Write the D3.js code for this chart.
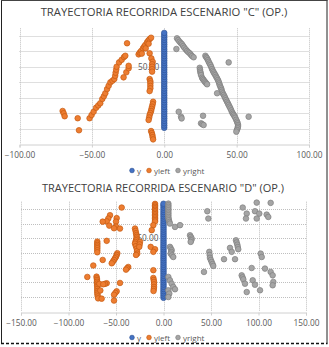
<!DOCTYPE html>
<html><head><meta charset="utf-8">
<script src="https://cdn.jsdelivr.net/npm/d3@7"></script>
<style>
html,body{margin:0;padding:0;background:#fff;}
svg{display:block;font-family:"Open Sans","Liberation Sans",sans-serif;}
</style></head>
<body><svg id="c" width="329" height="347"></svg>
<script>
// ---------- DATA ----------
const titles = ['TRAYECTORIA  RECORRIDA ESCENARIO "C" (OP.)', 'TRAYECTORIA RECORRIDA ESCENARIO "D" (OP.)'];
const seriesNames = ["y", "yleft", "yright"];
const xTicksC = [-100, -50, 0, 50, 100];
const xTicksD = [-150, -100, -50, 0, 50, 100, 150];
const yGrid = [10, 20, 30, 40, 50, 60, 70];
const yLabels = [50];

const C_y = [10.5,12,13.5,15,16.5,18,19.5,21,22.5,24,25.5,27,28.5,30,31.5,33,34.5,36,37.5,39,40.5,42,43.5,45,46.5,48,49.5,51,52.5,54,55.5,57,58.5,60,61.5,63,64.5,66,67.5,69,70.5,72];
const C_yleft = [
 [-70.2,21.4],[-69.5,19.9],[-68.8,18.0],[-59.8,16.7],[-58.9,8.9],
 [-51.6,16.7],[-50.2,18.8],[-48.8,20.9],[-47.1,23.5],[-45.6,25.0],[-44.2,26.4],[-42.8,29.2],[-41.7,31.0],
 [-40.7,32.9],[-39.5,35.6],[-38.4,37.8],[-37.2,40.0],[-35.8,41.0],[-34.5,42.1],[-33.9,44.2],[-33.6,46.2],
 [-33.2,48.2],[-32.9,50.1],[-31.2,52.9],[-29.4,54.6],[-27.8,56.4],[-26.9,57.2],[-25.7,65.3],
 [-28.1,43.2],[-26.2,46.5],[-24.6,49.1],[-24.6,50.7],
 [-17.7,58.1],[-16.9,59.2],[-16.0,60.3],[-14.7,62.0],[-13.9,63.1],[-13.1,64.2],[-11.9,65.9],[-11.0,67.0],
 [-10.1,68.0],[-9.1,68.9],[-15.5,58.6],[-12.8,62.0],[-10.8,65.0],
 [-10.1,58.8],[-8.9,55.5],[-8.0,53.3],[-8.4,51.7],[-8.4,50.1],[-8.4,48.5],[-8.4,46.9],
 [-10.1,42.1],[-9.6,40.7],[-9.6,39.3],[-9.6,37.7],[-9.6,36.1],[-10.1,34.3],
 [-7.7,27.4],[-8.0,25.8],[-8.4,24.2],[-8.8,22.8],[-9.1,21.4],[-9.6,20.1],[-10.1,18.8],[-10.4,17.2],[-10.8,15.6],
 [-9.1,8.4],[-8.6,7.1],[-8.2,5.8],[-8.0,4.4],[-7.7,3.0]
];
const C_yright = [
 [8.8,68.5],[9.7,67.4],[10.6,66.3],[11.5,65.4],[12.3,64.6],[13.1,63.5],[13.9,62.4],[14.9,61.3],[15.8,60.3],
 [16.7,59.5],[17.6,58.8],[18.4,57.9],[19.2,57.0],[20.3,56.2],[8.4,61.6],
 [28.4,57.2],[29.0,56.3],[29.6,55.5],[30.2,54.4],[30.7,53.3],[31.3,52.2],[31.9,51.2],[32.5,49.9],[33.0,48.6],
 [33.6,47.5],[34.1,46.5],[34.7,45.6],[35.3,44.7],[35.9,43.6],[36.5,42.6],[37.1,41.5],[37.6,40.4],[38.0,39.3],
 [38.3,38.2],[38.8,37.1],[39.3,36.1],[39.6,35.0],[39.9,33.9],[40.5,32.8],[41.1,31.8],[41.7,30.7],[42.2,29.6],
 [42.8,28.5],[43.4,27.4],[44.0,26.3],[44.5,25.3],[45.1,24.2],[45.7,23.1],[46.3,21.8],[46.9,20.5],[47.5,19.6],
 [48.0,18.8],[48.6,17.9],[49.1,17.0],[49.7,15.7],[50.3,14.5],[50.7,13.4],[51.0,12.3],[50.9,11.2],[50.7,10.2],
 [50.2,9.1],[49.8,8.0],
 [24.5,49.4],[24.7,48.1],[24.9,46.9],[25.2,45.8],[25.4,44.7],[26.1,43.0],[26.6,42.2],[27.2,41.5],[27.8,40.7],
 [28.4,40.0],[29.0,39.3],[29.6,38.7],
 [44.5,52.9],[36.5,32.9],[10.0,20.9],[11.6,17.7],[12.0,16.6],[26.8,18.3],[25.4,13.4],[26.3,12.8],[27.2,12.3],
 [58.3,17.7]
];

const D_y = [9.5,11,12.5,14,15.5,17,18.5,20,21.5,23,24.5,26,27.5,29,30.5,32,33.5,35,36.5,38,39.5,41,42.5,44,45.5,47,48.5,50,51.5,53,54.5,56,57.5,59,60.5,62,63.5,65,66.5,68,69.5,71,72.5,73.6];
const D_yleft = [
 [-44.0,71.0],[-56.3,65.8],[-58.1,63.5],[-59.8,61.6],[-64.0,61.4],[-57.1,58.7],
 [-49.3,63.8],[-50.0,61.4],[-50.0,58.0],[-52.1,56.9],[-45.8,56.7],
 [-8.9,73.5],[-8.9,72.5],[-8.9,71.5],[-8.9,70.5],[-8.9,69.5],[-8.9,68.5],[-8.9,67.5],[-8.9,66.5],[-8.9,65.5],
 [-8.9,64.5],[-8.9,63.5],[-8.9,62.5],[-8.9,61.5],[-10.7,59.0],[-12.4,55.6],
 [-30.0,56.7],[-29.4,55.1],[-28.9,53.5],[-28.5,52.2],[-28.2,51.0],[-28.5,49.8],[-28.9,48.7],[-29.5,47.5],
 [-30.0,46.4],[-29.1,44.7],[-28.2,43.0],[-27.9,41.3],[-27.6,39.6],[-28.9,38.7],
 [-24.7,47.6],[-25.1,45.9],[-25.5,44.2],
 [-13.5,44.2],[-8.9,42.6],[-10.7,40.8],
 [-59.8,48.3],
 [-69.7,47.8],[-69.7,46.6],[-69.7,45.5],[-69.7,44.4],[-69.7,43.3],[-69.7,41.9],[-69.7,40.5],
 [-48.6,39.9],[-49.3,38.7],[-50.0,37.5],[-51.0,36.4],[-52.1,35.3],[-53.3,34.1],[-54.5,33.0],
 [-64.0,35.3],[-73.9,31.5],[-37.1,30.5],[-38.3,29.6],[-39.5,28.7],[-10.7,28.3],[-80.2,23.7],
 [-70.5,23.9],[-70.2,22.7],[-70.0,21.6],[-70.0,20.4],[-70.0,19.2],[-69.8,18.0],[-69.7,16.9],[-69.7,15.5],
 [-69.7,14.1],[-69.6,12.9],[-69.5,11.7],[-69.2,10.4],[-68.9,9.1],[-67.5,19.0],[-66.5,14.5],
 [-59.8,19.4],[-61.6,19.0],[-63.4,18.7],[-45.8,19.6],
 [-10.7,23.0],[-10.3,21.6],[-10.0,20.3],[-10.0,18.6],[-10.0,16.9],[-10.2,15.5],[-10.5,14.1],
 [-49.3,13.9],[-50.7,12.8],[-52.1,11.6],[-65.1,8.9],[-52.1,7.6]
];
const D_yright = [
 [5.1,73.7],[5.1,72.6],[5.1,71.5],[5.1,70.4],[5.1,69.2],[5.1,68.0],[5.1,66.9],[5.1,65.8],[5.1,64.6],
 [5.3,63.5],[5.6,62.4],[6.2,61.2],[6.7,60.1],[12.1,57.8],[17.4,59.0],
 [27.9,52.1],[28.8,51.0],[29.7,49.8],[29.2,48.7],[28.6,47.6],
 [6.8,44.2],[7.7,43.0],[8.6,41.9],[8.1,40.7],[7.6,39.6],[9.0,38.4],[10.3,37.3],
 [46.1,68.5],[47.2,63.5],[48.2,40.8],[48.6,38.7],[48.9,36.7],[49.8,35.3],[50.7,33.9],[51.6,32.5],[52.4,31.2],
 [42.6,27.1],[63.7,35.8],[70.0,43.5],[71.8,40.8],
 [76.3,48.7],[77.0,47.2],[77.7,45.7],[78.2,44.1],[78.7,42.6],[75.3,35.8],
 [83.4,71.0],[87.6,66.9],[86.8,63.5],[98.1,74.4],[112.8,74.2],[96.3,68.5],[100.8,66.9],[108.6,66.2],
 [110.3,64.6],[98.1,63.5],[102.3,39.6],[103.4,37.3],[92.8,29.8],[106.8,29.4],[112.8,27.1],[114.9,24.8],
 [115.6,20.3],[114.9,18.0],[82.3,24.8],[83.2,23.4],[84.0,22.1],[85.8,19.1],[93.9,21.4],[96.3,18.4],
 [101.6,14.6],[87.6,13.4],
 [5.1,23.7],[6.8,21.4],[8.6,19.1],[10.3,16.9],[12.1,15.3],[5.1,14.6],[6.1,12.3],[5.1,10.0]
];

// ---------- DRAW ----------
const svg = d3.select("#c");
const colors = {y:"#4472C4", yleft:"#ED7D31", yright:"#A5A5A5"};
const strokes = {y:"#2F5597", yleft:"#C55A11", yright:"#7F7F7F"};
const textCol = "#595959";

// outer frame
svg.append("line").attr("x1",1.5).attr("x2",1.5).attr("y1",0).attr("y2",343.5).attr("stroke","#222").attr("stroke-width",1);
svg.append("line").attr("x1",327).attr("x2",327).attr("y1",0).attr("y2",343.5).attr("stroke","#222").attr("stroke-width",1);
svg.append("line").attr("x1",1).attr("x2",327.5).attr("y1",0.5).attr("y2",0.5).attr("stroke","#444").attr("stroke-width",1);
svg.append("line").attr("x1",1).attr("x2",327.5).attr("y1",343.5).attr("y2",343.5).attr("stroke","#111").attr("stroke-width",1.3).attr("stroke-dasharray","3,2");

function chart(cfg){
  const g = svg.append("g");
  const x = d3.scaleLinear().domain(cfg.xdom).range([cfg.left, cfg.right]);
  const y = d3.scaleLinear().domain([0,75]).range([cfg.bottom, cfg.top]);

  const t = g.append("text").attr("x",cfg.titleX).attr("y",cfg.titleY).attr("text-anchor","middle")
    .attr("font-size",13).attr("fill","#404040").attr("font-family","Open Sans, Liberation Sans, sans-serif")
    .text(cfg.title);
  const w = t.node().getComputedTextLength();
  if (w > 0) t.attr("font-size", (13 * cfg.titleW / w).toFixed(2));

  // horizontal gridlines
  g.selectAll("line.hg").data(yGrid).join("line").attr("class","hg")
    .attr("x1",cfg.left).attr("x2",cfg.right).attr("y1",d=>Math.round(y(d))+0.5).attr("y2",d=>Math.round(y(d))+0.5)
    .attr("stroke","#bfbfbf").attr("stroke-width",1).attr("stroke-dasharray","1,1");
  // vertical gridlines
  g.selectAll("line.vg").data(cfg.xticks).join("line").attr("class","vg")
    .attr("x1",d=>Math.round(x(d))+0.5).attr("x2",d=>Math.round(x(d))+0.5).attr("y1",cfg.top).attr("y2",cfg.bottom)
    .attr("stroke","#bfbfbf").attr("stroke-width",1).attr("stroke-dasharray","1,1");

  // x axis
  const xa = g.append("g").attr("transform",`translate(0,${Math.round(cfg.bottom)+0.5})`)
    .call(d3.axisBottom(x).tickValues(cfg.xticks).tickSize(3).tickFormat(d3.format(".2f")));
  xa.select(".domain").attr("stroke","#d0d0d0");
  xa.selectAll(".tick line").attr("stroke","#d0d0d0");
  xa.selectAll("text").attr("fill",textCol).attr("font-size",8.3).attr("font-family","Open Sans, Liberation Sans, sans-serif").attr("dy","0.9em");

  // y labels at the crossing x = 0
  g.selectAll("text.yl").data(yLabels).join("text").attr("class","yl")
    .attr("x",x(0)-5).attr("y",d=>y(d)+3).attr("text-anchor","end")
    .attr("font-size",8.3).attr("fill",textCol).text(d=>d3.format(".2f")(d));

  // series
  const pts = [
    {name:"y", data: cfg.yy.map(v=>[0,v])},
    {name:"yleft", data: cfg.left_},
    {name:"yright", data: cfg.right_}
  ];
  pts.forEach(s=>{
    g.append("g").selectAll("circle").data(s.data).join("circle")
      .attr("cx",d=>x(d[0])).attr("cy",d=>y(d[1])).attr("r",2.8)
      .attr("fill",colors[s.name]).attr("stroke",strokes[s.name]).attr("stroke-width",0.7);
  });

  // legend
  const offs = [0, 17, 46];
  const lg = g.append("g").attr("transform",`translate(${cfg.legX},${cfg.legY})`);
  seriesNames.forEach((n,i)=>{
    lg.append("circle").attr("cx",offs[i]).attr("cy",0).attr("r",2.3)
      .attr("fill",colors[n]).attr("stroke",strokes[n]).attr("stroke-width",0.7);
    lg.append("text").attr("x",offs[i]+5).attr("y",3).attr("font-size",8).attr("fill",textCol).text(n);
  });
}

chart({title:titles[0], titleX:164, titleY:16, titleW:247,
  xdom:[-100,100], xticks:xTicksC, left:19.5, right:309, top:28.3, bottom:144,
  yy:C_y, left_:C_yleft, right_:C_yright, legX:132, legY:170.5});
chart({title:titles[1], titleX:163, titleY:192, titleW:242,
  xdom:[-150,150], xticks:xTicksD, left:21, right:306, top:201.7, bottom:311.7,
  yy:D_y, left_:D_yleft, right_:D_yright, legX:132, legY:337.5});
</script></body></html>
